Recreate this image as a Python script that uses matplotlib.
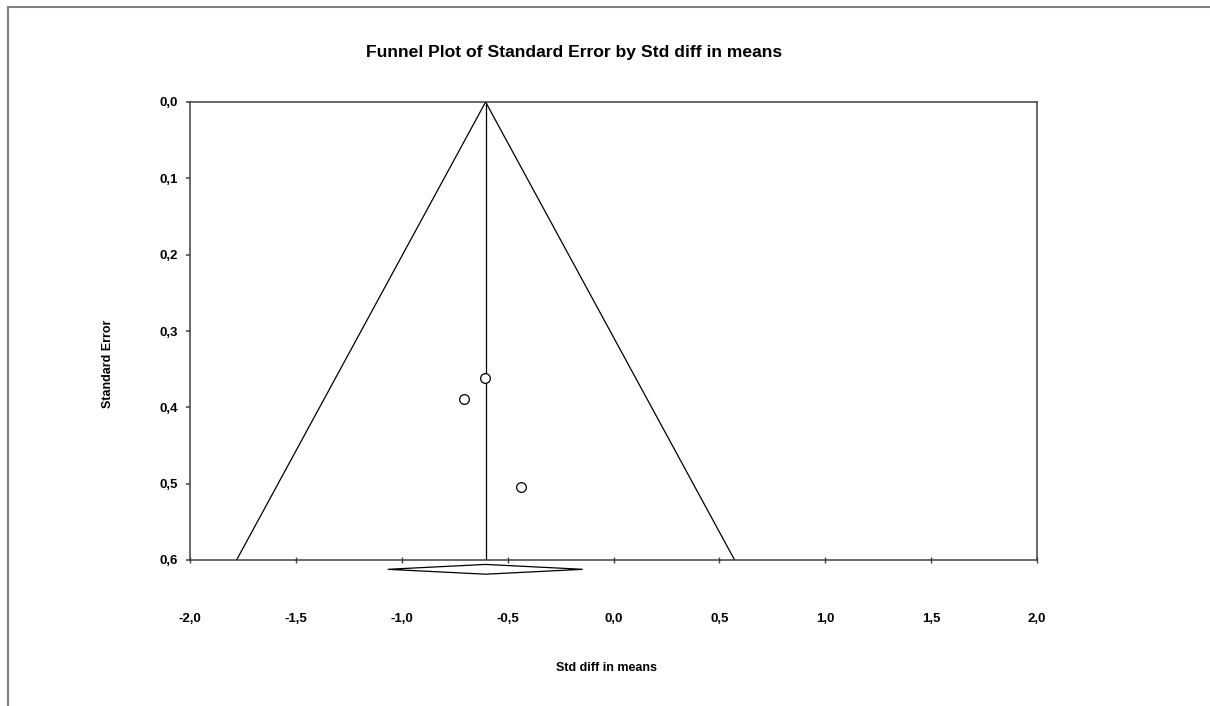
import matplotlib
matplotlib.use("Agg")
import matplotlib.pyplot as plt
from matplotlib.patches import Polygon
from matplotlib.lines import Line2D
import numpy as np

# ================== DATA ==================
effect = [-0.607, -0.707, -0.437]        # std diff in means
std_err = [0.361, 0.389, 0.504]          # standard error
pooled = -0.604                          # pooled estimate
ci_low, ci_high = -1.066, -0.145         # pooled CI (diamond)
se_max = 0.6
x_ticks = [-2.0, -1.5, -1.0, -0.5, 0.0, 0.5, 1.0, 1.5, 2.0]
y_ticks = [0.0, 0.1, 0.2, 0.3, 0.4, 0.5, 0.6]

W, H = 1210, 706
plt.rcParams["font.family"] = ["Liberation Sans Narrow", "Liberation Sans", "DejaVu Sans"]

fig = plt.figure(figsize=(W / 100, H / 100), dpi=100)
ax = fig.add_axes([190 / W, 1 - 560 / H, (1037 - 190) / W, (560 - 102) / H])

def comma(v):
    return f"{v:.1f}".replace(".", ",")

# ================== FUNNEL ==================
se_line = np.array([0.0, se_max])
ax.plot(pooled - 1.96 * se_line, se_line, color="black", lw=0.9)
ax.plot(pooled + 1.96 * se_line, se_line, color="black", lw=0.9)
ax.plot([pooled, pooled], [0, se_max], color="black", lw=0.9)

ax.plot(effect, std_err, "o", ms=7, mfc="white", mec="black", mew=0.9, zorder=3)

# diamond under the axis
d_half = 0.0064
d_mid = se_max + 0.0122
diamond = Polygon([(ci_low, d_mid), (pooled, d_mid - d_half),
                   (ci_high, d_mid), (pooled, d_mid + d_half)],
                  closed=True, fill=False, edgecolor="black", lw=0.9, clip_on=False)
ax.add_patch(diamond)

ax.set_xlim(-2, 2)
ax.set_ylim(se_max, 0)
ax.set_xticks(x_ticks)
ax.set_xticklabels([comma(v) for v in x_ticks])
ax.set_yticks(y_ticks)
ax.set_yticklabels([comma(v) for v in y_ticks])

for s in ax.spines.values():
    s.set_color("#404040")
    s.set_linewidth(1.1)

ax.tick_params(axis="x", direction="inout", length=5, width=1, color="#404040",
               pad=36, labelsize=9.5)
ax.tick_params(axis="y", direction="out", length=3, width=1.1, color="#404040",
               pad=6, labelsize=9.5)
for lab in ax.get_xticklabels() + ax.get_yticklabels():
    lab.set_fontweight("bold")

# ================== TEXT ==================
fig.text(574 / W, 1 - 53 / H, "Funnel Plot of Standard Error by Std diff in means",
         ha="center", va="center", fontsize=12.6, fontweight="bold")
fig.text(606 / W, 1 - 668 / H, "Std diff in means", ha="center", va="center",
         fontsize=9, fontweight="bold")
fig.text(108 / W, 1 - 364 / H, "Standard Error", ha="center", va="center",
         rotation=90, fontsize=9, fontweight="bold")

# outer frame
fig.add_artist(Line2D([8 / W, 8 / W], [0, 1 - 7 / H], color="#808080", lw=1.5))
fig.add_artist(Line2D([8 / W, 1], [1 - 7 / H, 1 - 7 / H], color="#808080", lw=1.5))

fig.savefig("out.png", dpi=100)
